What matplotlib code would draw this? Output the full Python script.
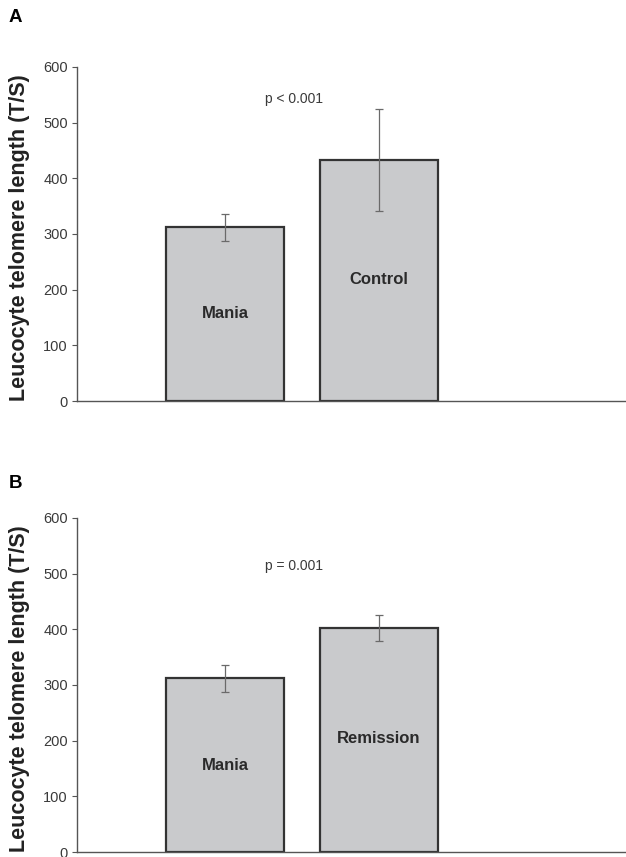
import matplotlib.pyplot as plt

# panel data
groups_a = ["Mania", "Control"]
means_a = [312, 433]
errs_a = [24, 91]
p_text_a = "p < 0.001"

groups_b = ["Mania", "Remission"]
means_b = [312, 402]
errs_b = [24, 24]
p_text_b = "p = 0.001"

# label heights inside the bars (data units)
label_y_a = [158, 219]
label_y_b = [156, 203]
p_y = [542, 514]

yticks = [0, 100, 200, 300, 400, 500, 600]
ylabel = "Leucocyte telomere length (T/S)"

BAR = "#c9cacc"
EDGE = "#333333"
AXIS = "#555555"
TICKTXT = "#3a3a3a"

plt.rcParams["font.family"] = ["Liberation Sans", "DejaVu Sans"]

fig = plt.figure(figsize=(6.26, 8.57), dpi=100, facecolor="white")
ax_a = fig.add_axes([0.123, 0.532, 0.877, 0.390])
ax_b = fig.add_axes([0.123, 0.0058, 0.877, 0.390])


def draw_panel(ax, groups, means, errs, label_y, ptext, py):
    x = [1, 2]
    ax.bar(x, means, width=0.77, color=BAR, edgecolor=EDGE, linewidth=1.6, zorder=2)
    ax.errorbar(x, means, yerr=errs, fmt="none", ecolor="#6a6a6a",
                elinewidth=0.9, capsize=3, capthick=0.9, zorder=3)
    for xi, name, ly in zip(x, groups, label_y):
        ax.text(xi, ly, name, ha="center", va="center", fontsize=12,
                fontweight="bold", color="#2a2a2a", zorder=4)
    ax.text(1.45, py, ptext, ha="center", va="center", fontsize=10, color=TICKTXT)

    ax.set_xlim(0.036, 3.61)
    ax.set_ylim(0, 600)
    ax.set_yticks(yticks)
    ax.set_yticklabels([str(v) for v in yticks], fontsize=10.5, color=TICKTXT)
    ax.set_xticks([])
    ax.tick_params(axis="y", length=3.5, width=0.8, color=AXIS, pad=3)
    for side in ("top", "right"):
        ax.spines[side].set_visible(False)
    for side in ("left", "bottom"):
        ax.spines[side].set_color(AXIS)
        ax.spines[side].set_linewidth(1.0)
    ax.set_ylabel(ylabel, fontsize=15.5, fontweight="bold", color="#222222")
    ax.yaxis.set_label_coords(-0.086, 0.488)
    ax.set_facecolor("white")


draw_panel(ax_a, groups_a, means_a, errs_a, label_y_a, p_text_a, p_y[0])
draw_panel(ax_b, groups_b, means_b, errs_b, label_y_b, p_text_b, p_y[1])

fig.text(9 / 626, 1 - 17 / 857, "A", fontsize=13.5, fontweight="bold", va="center", ha="left")
fig.text(9 / 626, 1 - 483 / 857, "B", fontsize=13.5, fontweight="bold", va="center", ha="left")

fig.savefig("out.png", dpi=100, facecolor="white")
